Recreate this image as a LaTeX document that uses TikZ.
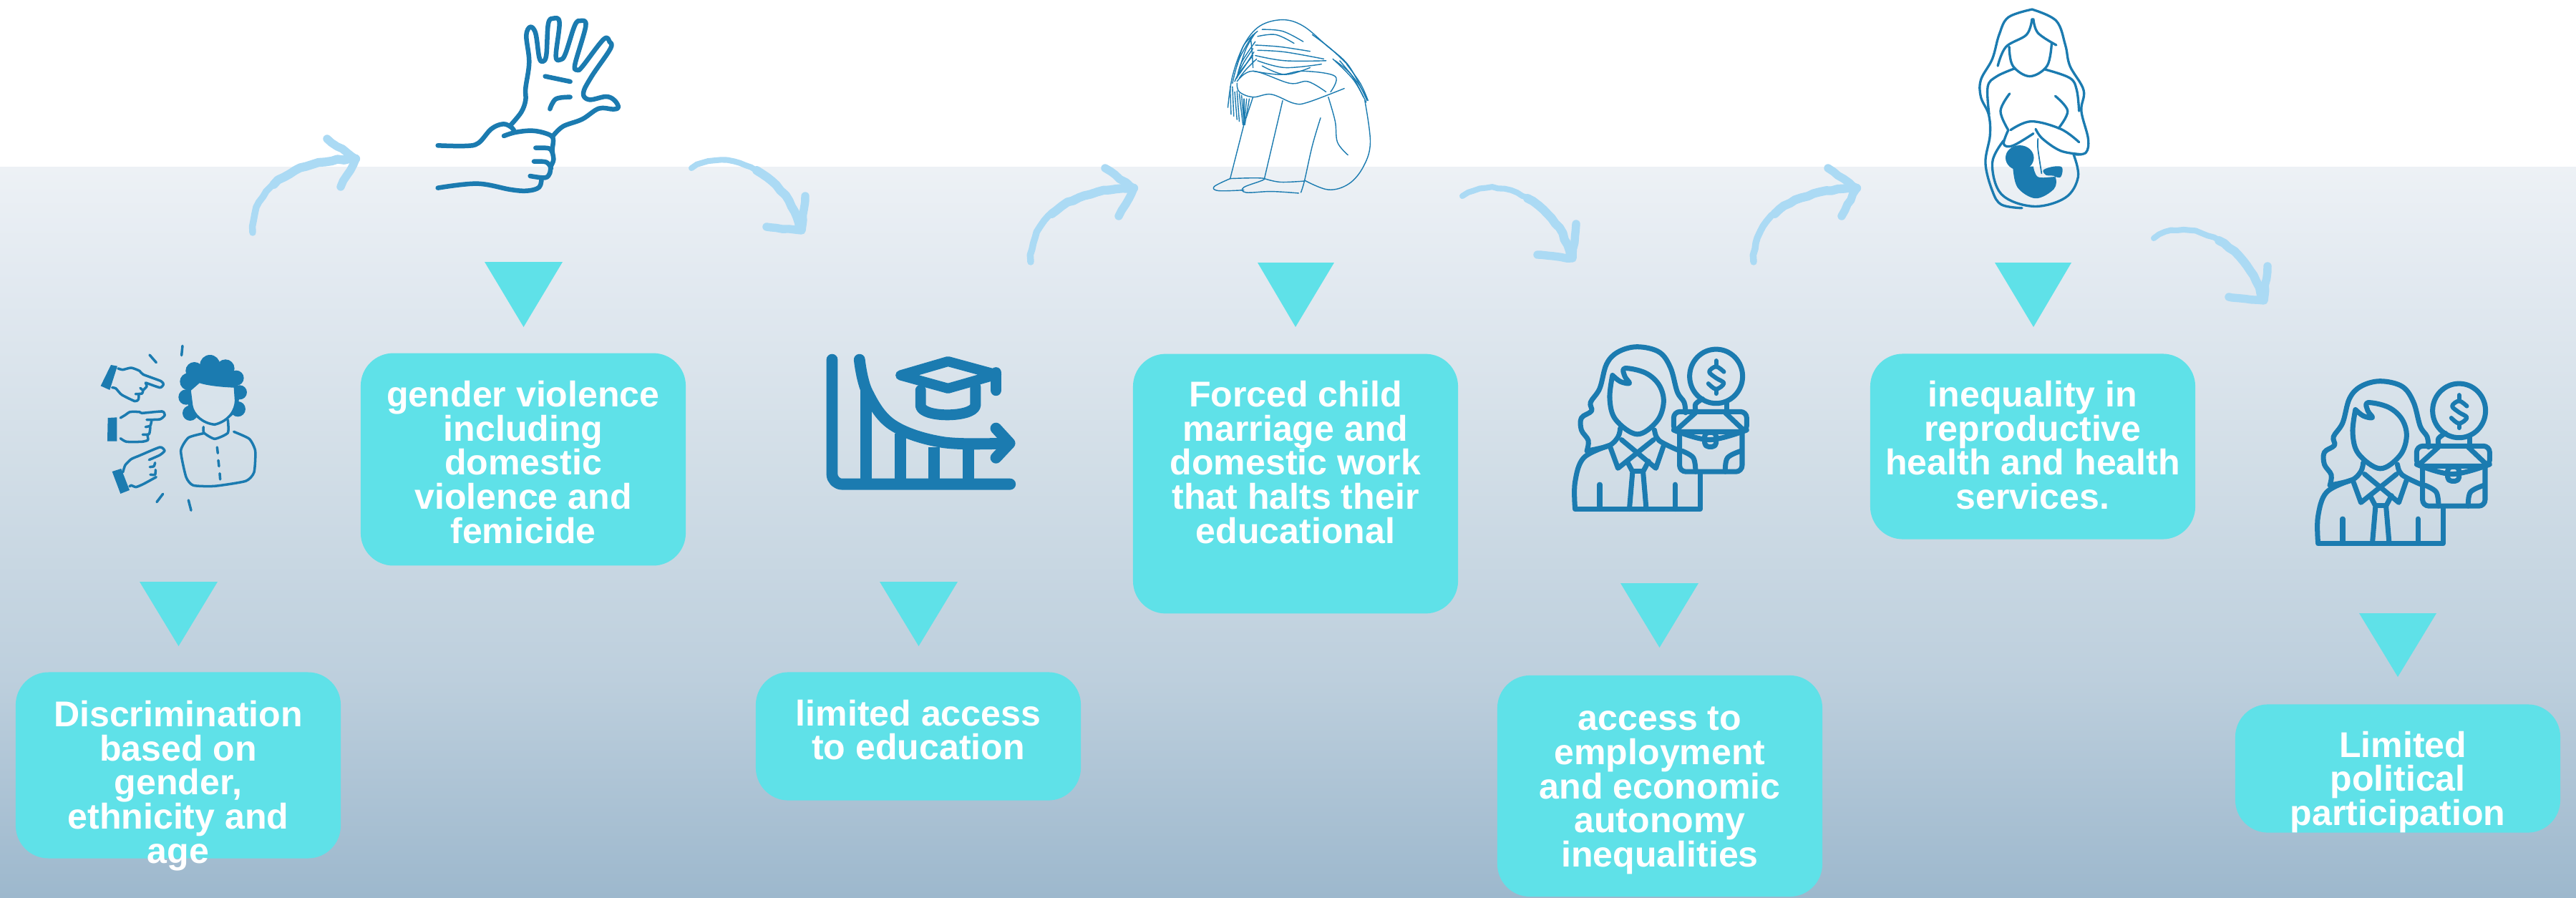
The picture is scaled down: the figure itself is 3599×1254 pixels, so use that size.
\documentclass[tikz,border=0pt]{standalone}
\usepackage{fontspec}
\setmainfont{Liberation Sans}
\usetikzlibrary{decorations.pathmorphing}
\definecolor{iconblue}{HTML}{1B7BB0}
\definecolor{boxcyan}{HTML}{5FE1E8}
\definecolor{arrowblue}{HTML}{ABDAF4}
\definecolor{bg1}{HTML}{EDF1F5}
\definecolor{bg2}{HTML}{E3EAF1}
\definecolor{bg3}{HTML}{D2DEE7}
\definecolor{bg4}{HTML}{BDCFDD}
\definecolor{bg5}{HTML}{9DB8CD}
\definecolor{facefill}{HTML}{D8E3EB}
\pgfdeclareverticalshading{seabg}{100bp}{
 color(0bp)=(bg5); color(25bp)=(bg5); color(40bp)=(bg4); color(55bp)=(bg3);color(68bp)=(bg2); color(75bp)=(bg1); color(100bp)=(bg1)}
\newcommand\cv[2][]{\draw[#1] plot[smooth,tension=0.6] coordinates {#2};}
\newcommand\cw[2][]{\draw[#1] plot[smooth,tension=0.35] coordinates {#2};}
\tikzset{
 infobox/.style={fill=boxcyan,rounded corners=26pt,minimum width=258.5pt,inner sep=0pt,draw=none},
 infotext/.style={text=white,font=\bfseries\fontsize{28.5pt}{27.2pt}\selectfont,align=center,inner sep=0pt},
 tri/.style={fill=boxcyan,draw=none},
 icon/.style={draw=iconblue,line cap=round,line join=round},
 arrowbase/.style={draw=arrowblue,line cap=round,line join=round,decorate,decoration={random steps,segment length=5pt,amplitude=0.6pt}},
}
\newcommand\uparrowicon[1]{\begin{scope}[shift={#1}]
 \draw[arrowbase,line width=5.4pt] (353,325) .. controls (352,280) and (385,225) .. (497,222);
 \draw[arrowbase,line width=7pt] (382.6,257.75) .. controls (404.75,238) and (441,223.5) .. (497,222);
 \draw[arrowbase,line width=6.5pt] (457,194) -- (497,222) -- (476,261);
\end{scope}}
\newcommand\downarrowicon[1]{\begin{scope}[shift={#1}]
 \draw[arrowbase,line width=4.6pt] (966,235) .. controls (1020,200) and (1105,250) .. (1117,321);
 \draw[arrowbase,line width=7pt] (1057.25,238.25) .. controls (1086.75,255.25) and (1111,285.5) .. (1117,321);
 \draw[arrowbase,line width=6.5pt] (1125,274) -- (1120,322) -- (1071,317);
\end{scope}}
\newcommand\womanicon[1]{\begin{scope}[shift={#1},xscale=0.6378,yscale=0.4847,icon,line width=4pt]
 \cv{(262,1300) (265,1270) (250,1240) (250,1205) (272,1185) (270,1160) (290,1120) (305,1050) (330,1015) (372,1000) (420,1015) (445,1060) (460,1130) (475,1160) (478,1190)}
 \cv{(318,1082) (312,1150) (325,1210) (372,1252) (415,1215) (430,1160) (420,1110) (390,1075) (345,1062) (345,1085) (355,1105) (335,1100) (318,1082)}
 \cv{(262,1300) (310,1285) (330,1260) (335,1235)}
 \cv{(410,1240) (420,1270) (462,1298)}
 \cv{(236,1465) (236,1390) (255,1320) (310,1285)}
 \draw (236,1468) -- (510,1468) -- (510,1365);
 \draw (338,1268) -- (413,1350) -- (430,1285);
 \draw (408,1268) -- (330,1350) -- (312,1285);
 \draw (350,1330) -- (362,1360) -- (355,1468);
 \draw (397,1330) -- (385,1360) -- (392,1468);
 \draw (362,1358) -- (385,1358);
 \draw (290,1397) -- (290,1468);
 \draw (455,1397) -- (455,1468);
 \draw (545,1085) ellipse [x radius=58,y radius=78];
 \cv[line width=3.4pt]{(562,1072) (545,1057) (530,1072) (545,1090) (562,1105) (545,1122) (528,1106)}
 \draw[line width=3.4pt] (545,1040) -- (545,1055) (545,1122) -- (545,1135);
 \cv{(500,1182) (500,1165) (515,1150)}
 \draw (568,1162) -- (568,1182);
 \draw[rounded corners=5pt] (452,1187) -- (612,1187) -- (612,1245) -- (452,1245) -- cycle;
 \cv{(452,1240) (530,1268) (612,1240)}
 \draw (500,1190) -- (458,1240) (565,1190) -- (605,1240);
 \draw[rounded corners=5pt] (465,1250) -- (465,1360) -- (602,1360) -- (602,1250);
 \draw[rounded corners=3pt] (520,1247) rectangle (545,1288);
 \cv{(470,1300) (495,1320) (500,1360)}
 \cv{(600,1300) (570,1320) (565,1360)}
\end{scope}}
\begin{document}
\begin{tikzpicture}[x=0.02cm,y=-0.02cm]
\useasboundingbox (0,0) rectangle (3599,1254);
\clip (0,0) rectangle (3599,1254);
\fill[white] (0,0) rectangle (3599,233);
\shade[shading=seabg] (0,233) rectangle (3599,1254);

% arrows
\pgfmathsetseed{7}
\uparrowicon{(0,0)}
\downarrowicon{(0,0)}
\uparrowicon{(1087,41)}
\downarrowicon{(1077,39)}
\uparrowicon{(2097,41)}
\downarrowicon{(2043,98)}

% triangles
\fill[tri] (195,813) -- (304,813) -- (249.5,903) -- cycle;
\fill[tri] (677,366) -- (786,366) -- (731.5,457) -- cycle;
\fill[tri] (1229,813) -- (1338,813) -- (1283.5,903) -- cycle;
\fill[tri] (1757,367) -- (1864,367) -- (1810,457) -- cycle;
\fill[tri] (2264,815) -- (2373,815) -- (2318.5,905) -- cycle;
\fill[tri] (2787,367) -- (2894,367) -- (2841,457) -- cycle;
\fill[tri] (3296,857) -- (3404,857) -- (3350,946) -- cycle;

% boxes
\node[infobox,minimum height=148pt] (b1) at (249,1069.5) {};
\node[infobox,minimum height=169pt] (b2) at (731,642) {};
\node[infobox,minimum height=102pt] (b3) at (1283,1029) {};
\node[infobox,minimum height=206.5pt] (b4) at (1810,676) {};
\node[infobox,minimum height=176pt] (b5) at (2319,1098.5) {};
\node[infobox,minimum height=147.5pt] (b6) at (2840,624) {};
\node[infobox,minimum height=102pt] (b7) at (3350,1074) {};

% texts
\node[infotext] (t1) at (249,1098) {Discrimination\\based on\\gender,\\ethnicity and\\age};
\node[infotext] (t2) at (731,646) {gender violence\\including\\domestic\\violence and\\femicide};
\node[infotext] (t3) at (1283,1020) {limited access\\to education};
\node[infotext] (t4) at (1810,646) {Forced child\\marriage and\\domestic work\\that halts their\\educational};
\node[infotext] (t5) at (2319,1105) {access to\\employment\\and economic\\autonomy\\inequalities};
\node[infotext] (t6) at (2840,622) {inequality in\\reproductive\\health and health\\services.};
\node[infotext] (t7) at (3350,1093) {\hspace*{8pt}Limited\\political\\participation};

% pointing icon
\begin{scope}[shift={(100,460)},scale=0.3333,icon,line width=2pt]
 \fill[iconblue] (580,150) ellipse [x radius=42,y radius=42];
 \fill[iconblue] (515,175) ellipse [x radius=37,y radius=37];
 \fill[iconblue] (645,165) ellipse [x radius=38,y radius=38];
 \fill[iconblue] (690,205) ellipse [x radius=32,y radius=32];
 \fill[iconblue] (490,220) ellipse [x radius=36,y radius=36];
 \fill[iconblue] (480,285) ellipse [x radius=32,y radius=32];
 \fill[iconblue] (705,265) ellipse [x radius=30,y radius=30];
 \fill[iconblue] (697,335) ellipse [x radius=32,y radius=32];
 \fill[iconblue] (497,352) ellipse [x radius=32,y radius=32];
 \fill[iconblue] (580,150) -- (645,165) -- (690,205) -- (705,265) -- (697,335) -- (670,365) -- (600,300) -- (530,375) -- (497,352) -- (480,285) -- (490,220) -- (515,175) -- cycle;
 \filldraw[fill=facefill] (495,255) -- (535,220) .. controls (570,232) and (630,238) .. (685,240) -- (689,300) .. controls (688,340) and (660,385) .. (600,400) .. controls (550,395) and (510,360) .. (503,320) -- cycle;
 \cw{(553,410) (555,435) (600,460) (655,435) (655,380)}
 \cw{(553,437) (490,455) (458,510) (480,620) (510,655) (600,658) (730,637) (765,600) (770,510) (745,460) (680,430)}
 \draw (610,495) -- (613,520) (615,550) -- (618,575) (621,605) -- (623,630);
 \draw (465,70) -- (461,110) (327,108) -- (355,140) (383,691) -- (357,725) (490,717) -- (501,760);
 \fill[iconblue] (165,150) -- (192,155) -- (160,255) -- (122,238) -- cycle;
 \cw{(195,165) (215,170) (250,162) (285,175) (300,190) (375,218) (385,232) (370,245) (312,225)}
 \cw{(310,225) (315,240) (300,255) (288,247)}
 \cw{(300,255) (295,270) (268,272)}
 \cw{(282,275) (280,295) (265,302) (210,275) (185,248) (170,245)}
 \fill[iconblue] (152,372) -- (190,370) -- (190,470) -- (150,470) -- cycle;
 \cw{(205,372) (225,360) (245,347) (285,347) (295,352) (380,345) (390,362) (370,378) (315,380)}
 \cw{(335,385) (330,405) (310,410)}
 \cw{(330,410) (325,440) (298,442)}
 \cw{(318,445) (320,465) (295,472) (230,472) (205,458)}
 \fill[iconblue] (170,597) -- (208,585) -- (243,675) -- (205,690) -- cycle;
 \cw{(215,600) (225,570) (250,545) (285,530) (370,495) (390,510) (370,528) (325,548)}
 \cw{(350,560) (345,575) (328,578)}
 \cw{(352,590) (350,610) (330,610)}
 \cw{(355,620) (300,650) (270,662) (250,655) (243,660)}
\end{scope}

% hand icon
\begin{scope}[shift={(580,0)},scale=0.3333,icon,line width=3.7pt]
 \cv{(400,525) (445,470) (463,420) (463,370) (478,260) (466,150) (483,113) (505,140) (520,240) (535,258) (550,230) (558,100) (580,77) (605,95) (590,235) (610,250) (630,225) (670,105) (695,87) (715,110) (670,270) (680,293) (700,280) (790,165) (815,175) (818,205) (740,320) (705,390) (730,418) (800,405) (835,420) (852,450) (830,458) (770,455) (700,500) (620,530) (578,570)}
 \cv{(545,320) (650,342)}
 \cv{(565,457) (590,415) (650,407)}
 \cv{(95,610) (210,612) (265,600) (320,540) (370,520) (405,535) (415,550)}
 \cv{(372,570) (420,555) (490,548) (550,560) (578,580) (575,630) (580,670) (568,700) (565,725) (545,745) (482,738)}
 \cv{(505,620) (560,622) (575,640)}
 \cv{(498,677) (550,680) (570,705)}
 \cv{(530,745) (520,785) (470,800) (400,795) (260,770) (95,788)}
\end{scope}

% graph icon
\begin{scope}[shift={(1100,0)},xscale=0.6378,yscale=0.4847,icon,line width=9pt]
 \draw[rounded corners=8pt] (98,1037) -- (98,1396) -- (488,1396);
 \cv{(158,1037) (175,1130) (230,1225) (340,1275) (480,1278)}
 \draw (457,1235) -- (487,1278) -- (457,1320);
 \draw[line cap=butt] (173,1120) -- (173,1390) (248,1250) -- (248,1390) (322,1290) -- (322,1390) (397,1290) -- (397,1390);
 \draw[line width=8pt] (248,1082) -- (352,1042) -- (458,1080) -- (352,1120) -- cycle;
 \draw[line width=9pt] (457,1075) -- (457,1125);
 \draw[line width=8.5pt] (292,1125) -- (292,1170) .. controls (295,1205) and (405,1205) .. (412,1170) -- (412,1115);
\end{scope}

% girl icon
\begin{scope}[shift={(1100,0)},xscale=0.6378,yscale=0.4847,icon,line width=0.8pt]
 \cv{(965,310) (975,220) (1000,130) (1035,75) (1085,57) (1130,75) (1180,130) (1230,190) (1270,290)}
 \draw (1000,360) -- (970,515) (1085,290) -- (1045,515);
 \cv{(1168,340) (1150,420) (1133,520) (1125,555)}
 \cv{(1265,290) (1277,410) (1262,480) (1230,530) (1185,547) (1133,520)}
 \cv{(1185,280) (1200,350) (1205,410) (1228,447)}
 \cv{(970,515) (935,538) (945,550) (1000,548)}
 \cv{(970,515) (1045,515) (1000,540) (1005,555) (1060,552) (1120,557)}
 \cv{(1045,515) (1080,525) (1133,522)}
 \cv{(985,235) (1020,205) (1100,240) (1140,235) (1180,265)}
 \cv{(985,240) (990,265) (1020,280) (1060,272) (1110,298) (1140,295) (1220,255)}
 \cv{(1020,205) (1080,215) (1130,205) (1200,220) (1190,265)}
 \cv{(1025,130) (1080,135) (1145,148)}
 \cv{(1030,145) (1090,150) (1175,170)}
 \cv{(1025,160) (1090,175) (1180,175)}
 \cv{(1030,175) (1090,195) (1170,185)}
 \cv{(1040,190) (1090,215) (1145,195)}
 \cv{(1030,105) (1070,100) (1110,125)}
 \cv{(1040,85) (1085,90) (1130,120)}
 \cv{(1020,100) (990,170) (975,240)}
 \cv{(1025,120) (995,180) (985,225)}
 \cv{(1020,140) (1000,180) (985,220)}
 \cv{(1020,160) (990,210) (980,235)}
 \cv{(1030,90) (1000,130) (985,190)}
 \cv{(1015,110) (1018,150) (1020,195)}
 \cv{(1025,95) (1005,140) (990,200)}
 \cv{(1022,150) (1000,195) (982,228)}
 \cv{(1028,170) (1005,200) (990,225)}
 \cv{(970,250) (972,330)}
 \cv{(980,265) (985,345)}
 \cv{(990,270) (998,360)}
 \cv{(1000,285) (1000,360)}
 \cv{(1012,285) (1002,360)}
 \cv{(1020,280) (1005,340)}
 \cv{(975,250) (978,335)}
 \cv{(985,262) (990,350)}
 \cv{(995,275) (1000,350)}
 \cv{(1006,285) (1001,355)}
 \cv{(1150,100) (1190,140) (1230,190)}
 \cv{(1195,170) (1240,230) (1268,295)}
 \cv{(1210,175) (1250,240) (1270,285)}
 \cv{(1225,185) (1255,240) (1272,290)}
 \cv{(1200,175) (1235,215) (1262,280)}
\end{scope}

% women with briefcase
\womanicon{(2050,0)}
\womanicon{(3088,48)}

% pregnant icon
\begin{scope}[shift={(2050,0)},xscale=0.6378,yscale=0.4847,icon,line width=1.9pt]
 \cv{(1237,27) (1185,50) (1165,100) (1150,170) (1125,230) (1125,280) (1142,330) (1145,390) (1135,470) (1150,550) (1170,590) (1215,600)}
 \cv{(1237,27) (1290,60) (1310,130) (1320,190) (1350,260) (1345,320) (1360,400) (1355,440) (1330,445)}
 \cv{(1237,55) (1225,100) (1180,135) (1162,190)}
 \cv{(1240,55) (1250,95) (1290,130)}
 \cv{(1187,135) (1195,190) (1232,220) (1270,190) (1280,125)}
 \cv{(1200,197) (1160,220) (1140,250) (1143,330)}
 \cv{(1265,200) (1320,225) (1335,260) (1340,320)}
 \cv{(1188,270) (1168,320) (1185,375)}
 \cv{(1288,277) (1315,320) (1295,370)}
 \cv{(1185,375) (1175,415) (1195,420) (1240,385)}
 \cv{(1190,375) (1235,350) (1300,372) (1340,410)}
 \cv{(1245,372) (1260,400) (1300,435) (1345,445)}
 \cv{(1175,405) (1150,470) (1170,560) (1240,595) (1310,570) (1338,510) (1328,445)}
 \cv[line width=1pt]{(1250,400) (1250,430) (1258,500)}
 \fill[iconblue] (1210,455) ellipse [x radius=31,y radius=36];
 \fill[iconblue] plot[smooth,tension=0.6] coordinates {(1195,480) (1205,540) (1245,572) (1285,545) (1288,510) (1268,505) (1262,490) (1285,480) (1303,483) (1300,510) (1285,510) (1250,510) (1240,480)} -- cycle;
\end{scope}
\end{tikzpicture}
\end{document}
